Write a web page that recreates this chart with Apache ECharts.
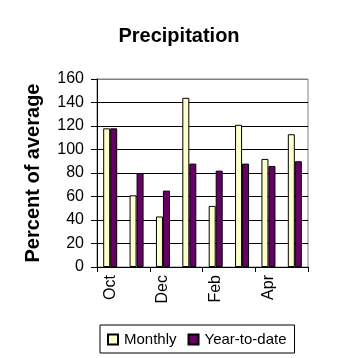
<!DOCTYPE html>
<html>
<head>
<meta charset="utf-8">
<script src="https://cdn.jsdelivr.net/npm/echarts@6/dist/echarts.min.js"></script>
<style>html,body{margin:0;padding:0;background:#fff}#c{width:358px;height:358px}</style>
</head>
<body>
<div id="c"></div>
<script>
var categories = ['Oct','Nov','Dec','Jan','Feb','Mar','Apr','May'];
var monthly = [118, 61, 43, 144, 52, 121, 92, 113];
var ytd = [118, 80, 65, 88, 82, 88, 86, 90];
var yTicks = [0, 20, 40, 60, 80, 100, 120, 140, 160];

var chart = echarts.init(document.getElementById('c'));
var font = 'Arial, "Liberation Sans", sans-serif';
var splitColors = yTicks.map(function(v, i){ return i === yTicks.length - 1 ? '#808080' : '#000'; });
chart.setOption({
  animation: false,
  backgroundColor: '#fff',
  title: {
    text: 'Precipitation', left: 'center', top: 21,
    textStyle: { fontFamily: font, fontSize: 20, fontWeight: 'bold', color: '#000' }
  },
  grid: { left: 97, right: 50, top: 79, bottom: 91, show: true, borderColor: '#808080', borderWidth: 1, backgroundColor: '#fff' },
  legend: {
    data: ['Monthly', 'Year-to-date'],
    left: 100, top: 325,
    itemWidth: 10, itemHeight: 10, itemGap: 11,
    padding: [7, 8, 6, 7],
    borderColor: '#000', borderWidth: 1, backgroundColor: '#fff',
    icon: 'rect',
    textStyle: { fontFamily: font, fontSize: 15, color: '#000', padding: [0, 0, 0, 1] }
  },
  xAxis: {
    type: 'category', data: categories,
    axisLine: { lineStyle: { color: '#000', width: 1 } },
    axisTick: { show: true, length: 5, lineStyle: { color: '#000' } },
    axisLabel: { rotate: 90, interval: 1, fontFamily: font, fontSize: 16, color: '#000', margin: 8 }
  },
  yAxis: {
    type: 'value', min: 0, max: 160, interval: 20,
    name: 'Percent of average', nameLocation: 'middle', nameGap: 54,
    nameTextStyle: { fontFamily: font, fontSize: 20, fontWeight: 'bold', color: '#000' },
    axisLine: { show: true, lineStyle: { color: '#000', width: 1 } },
    axisTick: { show: true, length: 6, lineStyle: { color: '#000' } },
    axisLabel: { fontFamily: font, fontSize: 16, color: '#000', margin: 13 },
    splitLine: { show: true, lineStyle: { color: splitColors, width: 1 } }
  },
  series: [
    { name: 'Monthly', type: 'bar', data: monthly, barWidth: 7, barGap: '0%',
      itemStyle: { color: '#FFFFCC', borderColor: '#000', borderWidth: 1 } },
    { name: 'Year-to-date', type: 'bar', data: ytd, barWidth: 7,
      itemStyle: { color: '#660066', borderColor: '#000', borderWidth: 1 } }
  ]
});
</script>
</body>
</html>
